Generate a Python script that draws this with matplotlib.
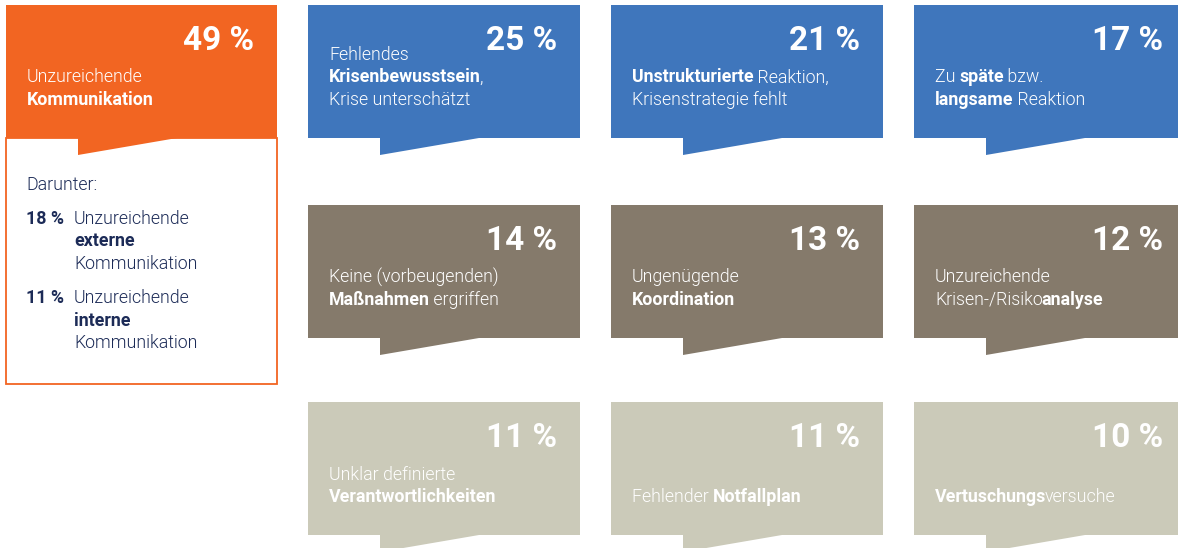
import matplotlib
matplotlib.use('Agg')
import matplotlib.pyplot as plt
from matplotlib.patches import Polygon

plt.rcParams['font.family'] = ['Roboto', 'DejaVu Sans']

# main finding
main_value = 49
main_label = "Unzureichende\n**Kommunikation**"
sub_intro = "Darunter:"
sub_values = [18, 11]
sub_labels = ["Unzureichende\n**externe**\nKommunikation",
              "Unzureichende\n**interne**\nKommunikation"]

# further findings, read row by row
values = [25, 21, 17, 14, 13, 12, 11, 11, 10]
labels = [
    "Fehlendes\n**Krisenbewusstsein**,\nKrise unterschätzt",
    "**Unstrukturierte** Reaktion,\nKrisenstrategie fehlt",
    "Zu **späte** bzw.\n**langsame** Reaktion",
    "Keine (vorbeugenden)\n**Maßnahmen** ergriffen",
    "Ungenügende\n**Koordination**",
    "Unzureichende\nKrisen-/Risiko**analyse**",
    "Unklar definierte\n**Verantwortlichkeiten**",
    "Fehlender **Notfallplan**",
    "**Vertuschungs**versuche",
]
row_colors = ['#3f76bc', '#857a6b', '#cbcab9']
orange = '#f26522'
navy = '#1c2b57'

W, H = 1178, 548
BW, BH = 272, 133
col_x = [308, 611, 914]
row_y = [5, 205, 402]
BODY = 12.8
BIG = 24
LIGHT = 300

fig = plt.figure(figsize=(W / 100, H / 100), dpi=100)
ax = fig.add_axes([0, 0, 1, 1])
ax.set_xlim(0, W)
ax.set_ylim(H, 0)
ax.axis('off')
renderer = fig.canvas.get_renderer()


def width_of(s, size, weight):
    t = ax.text(0, 0, s, fontsize=size, fontweight=weight)
    w = t.get_window_extent(renderer).width
    t.remove()
    return w


def advance(s, size, weight):
    # bars on both sides so spaces and bearings are counted
    return width_of('|' + s + '|', size, weight) - width_of('||', size, weight)


def rich_line(x, y, line, color, size=BODY):
    parts = line.split('**')
    prev = None
    for i, part in enumerate(parts):
        if not part:
            continue
        weight = 'bold' if i % 2 else LIGHT
        if prev is not None:
            # tighten the join where the weight changes
            spaced = prev.endswith(' ') or part.startswith(' ')
            x -= 0.6 if spaced else 1.8
        ax.text(x, y, part, color=color, fontsize=size,
                fontweight=weight, va='baseline', ha='left')
        x += advance(part, size, weight)
        prev = part


def bubble(x0, y0, w, h, color):
    pts = [(x0, y0), (x0 + w, y0), (x0 + w, y0 + h), (x0 + 171, y0 + h),
           (x0 + 72, y0 + h + 17), (x0 + 72, y0 + h), (x0, y0 + h)]
    ax.add_patch(Polygon(pts, closed=True, facecolor=color, edgecolor='none'))


def tile(x0, y0, w, value, label, color):
    bubble(x0, y0, w, BH, color)
    ax.text(x0 + w - 23, y0 + 45, '%d %%' % value, color='white',
            fontsize=BIG, fontweight='bold', ha='right', va='baseline')
    lines = label.split('\n')
    for k, line in enumerate(lines):
        yb = y0 + 100 - 22.5 * (len(lines) - 1 - k)
        rich_line(x0 + 21, yb, line, 'white')


# main orange tile with white detail box
ax.add_patch(Polygon([(6, 138), (277, 138), (277, 384), (6, 384)], closed=True,
                     facecolor='white', edgecolor=orange, linewidth=1.3))
tile(6, 5, 271, main_value, main_label, orange)

rich_line(26, 190, sub_intro, navy)
yb = 224
for v, lab in zip(sub_values, sub_labels):
    rich_line(26, yb, '**%d %%**' % v, navy)
    for k, line in enumerate(lab.split('\n')):
        rich_line(74, yb + 22.5 * k, line, navy)
    yb += 79

for i, (v, lab) in enumerate(zip(values, labels)):
    r, c = divmod(i, 3)
    tile(col_x[c], row_y[r], BW, v, lab, row_colors[r])

fig.savefig('out.png', dpi=100)
